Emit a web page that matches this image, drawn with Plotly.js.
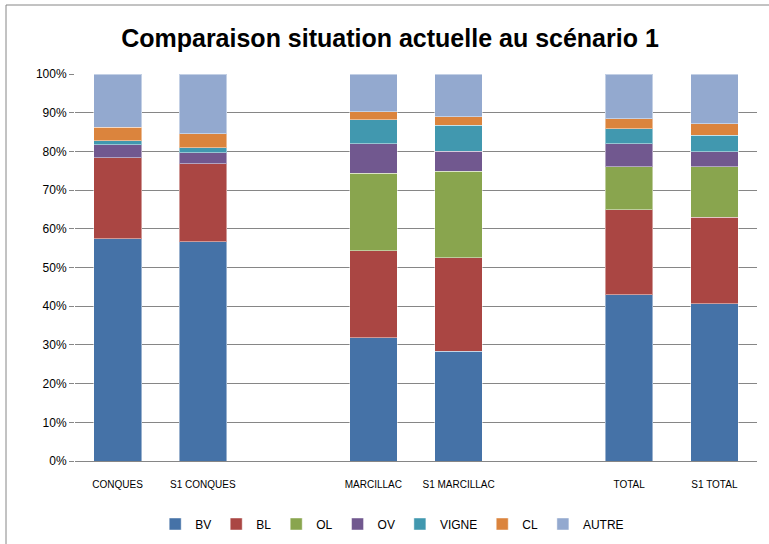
<!DOCTYPE html>
<html>
<head>
<meta charset="utf-8">
<script src="https://cdn.plot.ly/plotly-3.0.1.min.js"></script>
<style>html,body{margin:0;padding:0;background:#fff;}#chart{width:769px;height:544px;}</style>
</head>
<body>
<div id="chart"></div>
<script>
// Categories (blank slots separate the groups)
const categories = ["CONQUES", "S1 CONQUES", " ", "MARCILLAC", "S1 MARCILLAC", "  ", "TOTAL", "S1 TOTAL"];
const barCategories = ["CONQUES", "S1 CONQUES", "MARCILLAC", "S1 MARCILLAC", "TOTAL", "S1 TOTAL"];

// Shares in percent
const BV    = [57.4, 56.6, 31.9, 28.4, 42.9, 40.6];
const BL    = [21.0, 20.2, 22.4, 24.1, 22.0, 22.4];
const OL    = [0.0,  0.0,  20.1, 22.4, 11.1, 13.0];
const OV    = [3.3,  2.8,  7.6,  5.2,  6.0,  3.9];
const VIGNE = [1.0,  1.3,  6.2,  6.7,  3.8,  4.3];
const CL    = [3.6,  3.7,  2.1,  2.1,  2.6,  3.0];
const AUTRE = [13.7, 15.4, 9.7,  11.1, 11.6, 12.8];

const seriesNames = ["BV", "BL", "OL", "OV", "VIGNE", "CL", "AUTRE"];
const seriesValues = [BV, BL, OL, OV, VIGNE, CL, AUTRE];
const colors = ["#4572A7", "#AA4643", "#89A54E", "#71588F", "#4198AF", "#DB843D", "#93A9CF"];

const traces = seriesNames.map((name, i) => ({
  type: "bar",
  name: name,
  x: barCategories,
  y: seriesValues[i],
  marker: {color: colors[i], line: {color: "rgba(255,255,255,0.45)", width: 1}},
  hoverinfo: "x+y+name"
}));

const layout = {
  width: 769,
  height: 544,
  margin: {l: 75, r: 12, t: 74, b: 83, autoexpand: false},
  paper_bgcolor: "#ffffff",
  plot_bgcolor: "#ffffff",
  barmode: "stack",
  bargap: 0.44,
  font: {family: "Liberation Sans, Arial, sans-serif", size: 11, color: "#000"},
  title: {
    text: "<b>Comparaison situation actuelle au scénario 1</b>",
    font: {family: "Liberation Sans, Arial, sans-serif", size: 25, color: "#000"},
    x: 390 / 769, xanchor: "center", xref: "container",
    y: 0.93, yanchor: "middle", yref: "container"
  },
  xaxis: {
    type: "category",
    categoryorder: "array",
    categoryarray: categories,
    showgrid: false,
    showline: true,
    linecolor: "#868686",
    linewidth: 1,
    ticks: "",
    tickfont: {size: 10, family: "Liberation Sans Narrow, Liberation Sans, Arial, sans-serif"},
    ticklabelstandoff: 14,
    range: [-0.5, 7.5],
    fixedrange: true
  },
  yaxis: {
    range: [0, 100],
    dtick: 10,
    ticksuffix: "%",
    showgrid: true,
    gridcolor: "#868686",
    gridwidth: 1,
    zeroline: false,
    showline: false,
    ticks: "outside",
    ticklen: 5,
    tickcolor: "#868686",
    tickfont: {size: 12},
    fixedrange: true
  },
  legend: {
    orientation: "h",
    x: 0.51, xanchor: "center", xref: "container",
    y: 20 / 544, yanchor: "middle", yref: "container",
    bgcolor: "rgba(0,0,0,0)",
    font: {size: 12},
    traceorder: "normal",
    itemwidth: 30
  },
  shapes: [
    {type: "line", xref: "paper", yref: "paper",
     x0: (6 - 75) / 682, x1: 1.2, y0: (461 - 5) / 387, y1: (461 - 5) / 387,
     line: {color: "#868686", width: 1}},
    {type: "line", xref: "paper", yref: "paper",
     x0: (6 - 75) / 682, x1: (6 - 75) / 682, y0: (461 - 5) / 387, y1: -0.3,
     line: {color: "#868686", width: 1}}
  ],
  showlegend: true
};

Plotly.newPlot("chart", traces, layout, {displayModeBar: false, staticPlot: true});
</script>
</body>
</html>
